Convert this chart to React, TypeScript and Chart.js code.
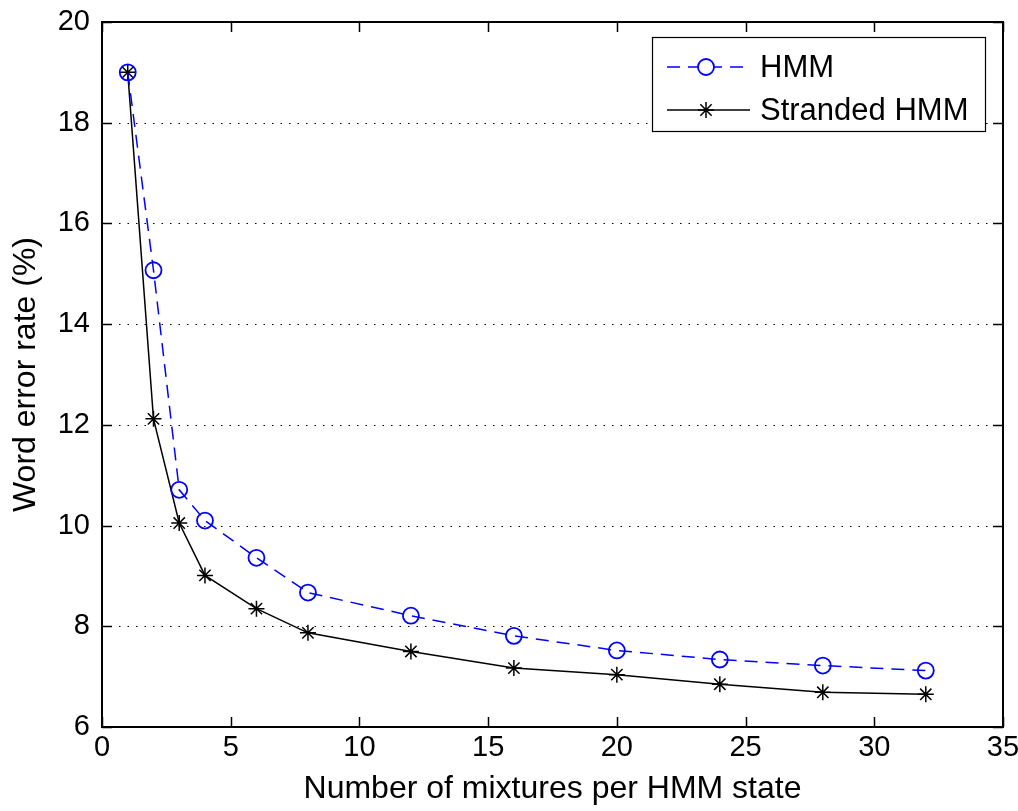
import React, { useEffect, useRef } from "react";
import { Chart, registerables } from "chart.js";

Chart.register(...registerables);

const mixtures = [1, 2, 3, 4, 6, 8, 12, 16, 20, 24, 28, 32];
const hmmWER = [19.0, 15.07, 10.71, 10.1, 9.36, 8.67, 8.21, 7.81, 7.52, 7.34, 7.22, 7.12];
const strandedWER = [19.0, 12.12, 10.05, 9.01, 8.35, 7.87, 7.5, 7.17, 7.04, 6.85, 6.69, 6.65];
const seriesNames = ["HMM", "Stranded HMM"];
const xTitle = "Number of mixtures per HMM state";
const yTitle = "Word error rate (%)";

const FONT = "'Liberation Sans', Arial, Helvetica, sans-serif";

const framePlugin = {
  id: "matlabFrame",
  beforeDatasetsDraw(chart: any) {
    const { ctx, chartArea: a, scales } = chart;
    const y = scales.y;
    ctx.save();
    ctx.strokeStyle = "#000";
    ctx.lineWidth = 1.2;
    ctx.setLineDash([1.5, 7]);
    y.ticks.forEach((t: any) => {
      if (t.value <= y.min || t.value >= y.max) return;
      const py = Math.round(y.getPixelForValue(t.value)) + 0.5;
      ctx.beginPath();
      ctx.moveTo(a.left, py);
      ctx.lineTo(a.right, py);
      ctx.stroke();
    });
    ctx.restore();
  },
  afterDraw(chart: any) {
    const { ctx, chartArea: a, scales } = chart;
    const x = scales.x;
    const y = scales.y;
    ctx.save();
    ctx.strokeStyle = "#000";
    ctx.lineWidth = 1.5;
    ctx.setLineDash([]);
    const tl = 10;
    x.ticks.forEach((t: any) => {
      const px = Math.round(x.getPixelForValue(t.value)) + 0.5;
      ctx.beginPath();
      ctx.moveTo(px, a.bottom);
      ctx.lineTo(px, a.bottom - tl);
      ctx.moveTo(px, a.top);
      ctx.lineTo(px, a.top + tl);
      ctx.stroke();
    });
    y.ticks.forEach((t: any) => {
      const py = Math.round(y.getPixelForValue(t.value)) + 0.5;
      ctx.beginPath();
      ctx.moveTo(a.left, py);
      ctx.lineTo(a.left + tl, py);
      ctx.moveTo(a.right, py);
      ctx.lineTo(a.right - tl, py);
      ctx.stroke();
    });
    ctx.lineWidth = 2;
    ctx.strokeRect(a.left, a.top, a.right - a.left, a.bottom - a.top);

    // legend box
    const bx = 652, by = 37, bw = 333, bh = 94;
    ctx.fillStyle = "#fff";
    ctx.fillRect(bx, by, bw, bh);
    ctx.lineWidth = 1.2;
    ctx.strokeRect(bx + 0.5, by + 0.5, bw, bh);
    const rows = [by + 30, by + 73];
    chart.data.datasets.forEach((ds: any, i: number) => {
      const ry = rows[i];
      ctx.strokeStyle = ds.borderColor;
      ctx.lineWidth = ds.borderWidth;
      ctx.setLineDash(ds.borderDash || []);
      ctx.beginPath();
      ctx.moveTo(bx + 15, ry);
      ctx.lineTo(bx + 98, ry);
      ctx.stroke();
      ctx.setLineDash([]);
      ctx.lineWidth = ds.pointBorderWidth;
      ctx.strokeStyle = ds.pointBorderColor;
      const cx = bx + 54;
      if (ds.pointStyle === "circle") {
        ctx.fillStyle = "#fff";
        ctx.beginPath();
        ctx.arc(cx, ry, ds.pointRadius, 0, Math.PI * 2);
        ctx.fill();
        ctx.stroke();
      } else {
        const r = ds.pointRadius;
        ctx.beginPath();
        for (let k = 0; k < 4; k++) {
          const ang = (k * Math.PI) / 4;
          ctx.moveTo(cx - r * Math.cos(ang), ry - r * Math.sin(ang));
          ctx.lineTo(cx + r * Math.cos(ang), ry + r * Math.sin(ang));
        }
        ctx.stroke();
      }
      ctx.fillStyle = "#000";
      ctx.font = `31px ${FONT}`;
      ctx.textBaseline = "middle";
      ctx.textAlign = "left";
      ctx.fillText(ds.label, bx + 108, ry + 1);
    });
    ctx.restore();
  },
};

export default function App() {
  const ref = useRef<HTMLCanvasElement>(null);
  useEffect(() => {
    document.body.style.margin = "0";
    const canvas = ref.current!;
    const chart = new Chart(canvas, {
      type: "line",
      data: {
        datasets: [
          {
            label: seriesNames[0],
            data: mixtures.map((m, i) => ({ x: m, y: hmmWER[i] })),
            borderColor: "#0000ff",
            borderWidth: 1.5,
            borderDash: [13, 8],
            pointStyle: "circle",
            pointRadius: 8,
            pointBorderColor: "#0000ff",
            pointBackgroundColor: "rgba(255,255,255,0)",
            pointBorderWidth: 1.8,
            tension: 0,
          },
          {
            label: seriesNames[1],
            data: mixtures.map((m, i) => ({ x: m, y: strandedWER[i] })),
            borderColor: "#000000",
            borderWidth: 1.5,
            pointStyle: "star",
            pointRadius: 8,
            pointBorderColor: "#000000",
            pointBackgroundColor: "#000000",
            pointBorderWidth: 1.5,
            tension: 0,
          },
        ],
      },
      options: {
        responsive: false,
        animation: false,
        devicePixelRatio: 1,
        layout: { padding: { top: 22, right: 15, left: 0, bottom: 0 } },
        plugins: { legend: { display: false }, tooltip: { enabled: false } },
        scales: {
          x: {
            type: "linear",
            min: 0,
            max: 35,
            grid: { display: false, drawTicks: false },
            border: { display: false },
            ticks: { stepSize: 5, color: "#000", font: { family: FONT, size: 29 }, padding: 4, maxRotation: 0 },
            title: { display: true, text: xTitle, color: "#000", font: { family: FONT, size: 32 }, padding: { top: 0, bottom: 3 } },
            afterFit: (s: any) => { s.height = 84; s.paddingLeft = 0; s.paddingRight = 0; },
          },
          y: {
            type: "linear",
            min: 6,
            max: 20,
            grid: { display: false, drawTicks: false },
            border: { display: false },
            ticks: { stepSize: 2, color: "#000", font: { family: FONT, size: 29 }, padding: 12 },
            title: { display: true, text: yTitle, color: "#000", font: { family: FONT, size: 32 }, padding: { top: 7, bottom: 0 } },
            afterFit: (s: any) => { s.width = 102; s.paddingTop = 0; s.paddingBottom = 0; },
          },
        },
      },
      plugins: [framePlugin],
    } as any);
    return () => chart.destroy();
  }, []);
  return (
    <div style={{ position: "fixed", left: 0, top: 0, width: 1018, height: 811, background: "#fff" }}>
      <canvas ref={ref} width={1018} height={811} style={{ width: 1018, height: 811, display: "block" }} />
    </div>
  );
}
